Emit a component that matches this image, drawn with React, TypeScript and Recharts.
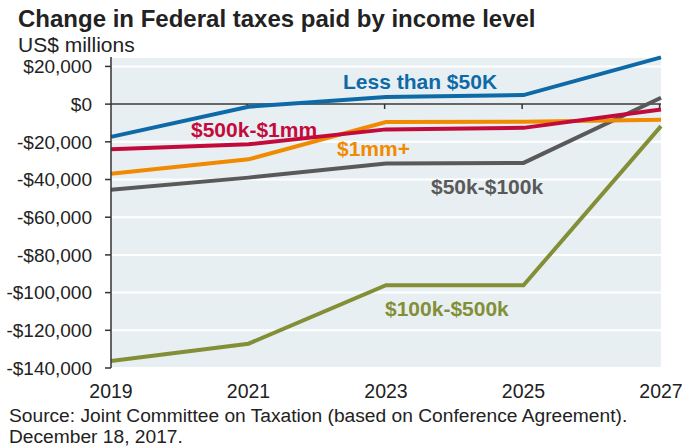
import React from 'react';
import {
  LineChart,
  Line,
  XAxis,
  YAxis,
  CartesianGrid,
  ReferenceLine,
} from 'recharts';

const years = [2019, 2021, 2023, 2025, 2027];
const lessThan50k = [-17400, -1400, 3800, 4800, 24800];
const k50to100k = [-45400, -39000, -31500, -31200, 3400];
const k100to500k = [-136300, -127100, -96100, -96100, -11700];
const k500to1mm = [-23900, -21300, -13400, -12600, -2800];
const mm1plus = [-36900, -29300, -9500, -9400, -8300];
const yTicks = [20000, 0, -20000, -40000, -60000, -80000, -100000, -120000, -140000];

const data = years.map((year, i) => ({
  year,
  lt50: lessThan50k[i],
  k50: k50to100k[i],
  k100: k100to500k[i],
  k500: k500to1mm[i],
  mm1: mm1plus[i],
}));

const BLUE = '#0d6aa7';
const GRAY = '#595959';
const GREEN = '#838f36';
const RED = '#c20b3b';
const ORANGE = '#f08a00';
const TEXT = '#222';
const FONT = '"Liberation Sans", Arial, sans-serif';

const fmtMoney = (v: number) =>
  (v < 0 ? '-$' : '$') + Math.abs(v).toLocaleString('en-US');

export default function App() {
  return (
    <div style={{ position: 'absolute', left: 0, top: 0, width: 692, height: 447, background: '#fff', fontFamily: FONT }}>
      <LineChart
        width={692}
        height={447}
        data={data}
        margin={{ top: 57, right: 31, bottom: 49, left: 11 }}
      >
        <CartesianGrid vertical={false} stroke="#fff" strokeWidth={2} fill="#e8eff3" />
        <XAxis
          dataKey="year"
          type="number"
          domain={[2019, 2027]}
          ticks={years}
          height={30}
          axisLine={false}
          tickLine={false}
          tickSize={0}
          tickMargin={16.5}
          tick={{ fill: TEXT, fontSize: 19.5, fontFamily: FONT }}
        />
        <YAxis
          type="number"
          domain={[-140000, 25000]}
          ticks={yTicks}
          width={100}
          axisLine={{ stroke: '#333', strokeWidth: 1.5 }}
          tickLine={{ stroke: '#333', strokeWidth: 1.5 }}
          tickSize={6}
          tickMargin={13}
          tickFormatter={fmtMoney}
          tick={{ fill: TEXT, fontSize: 19, fontFamily: FONT }}
          interval={0}
        />
        <ReferenceLine y={0} stroke="#333" strokeWidth={1.5} />
        {years.slice(1).map((yr) => (
          <ReferenceLine
            key={yr}
            segment={[{ x: yr - 0.02, y: 0 }, { x: yr - 0.02, y: -2600 }]}
            stroke="#333"
            strokeWidth={1.5}
          />
        ))}
        <Line dataKey="lt50" stroke={BLUE} strokeWidth={4} dot={false} isAnimationActive={false} />
        <Line dataKey="k100" stroke={GREEN} strokeWidth={4} dot={false} isAnimationActive={false} />
        <Line dataKey="k50" stroke={GRAY} strokeWidth={4} dot={false} isAnimationActive={false} />
        <Line dataKey="mm1" stroke={ORANGE} strokeWidth={4} dot={false} isAnimationActive={false} />
        <Line dataKey="k500" stroke={RED} strokeWidth={4} dot={false} isAnimationActive={false} />
      </LineChart>
      <svg
        width={692}
        height={447}
        style={{ position: 'absolute', left: 0, top: 0, pointerEvents: 'none' }}
        fontFamily={FONT}
      >
        <text x={18} y={27} fontSize={24} fontWeight="bold" fill={TEXT}>
          Change in Federal taxes paid by income level
        </text>
        <text x={18} y={52} fontSize={21} fill={TEXT}>
          US$ millions
        </text>
        <text x={343} y={89} fontSize={21} fontWeight="bold" fill={BLUE}>
          Less than $50K
        </text>
        <text x={191} y={136.5} fontSize={21} fontWeight="bold" fill={RED}>
          $500k-$1mm
        </text>
        <text x={337} y={155.5} fontSize={21} fontWeight="bold" fill={ORANGE}>
          $1mm+
        </text>
        <text x={431} y={194} fontSize={21} fontWeight="bold" fill={GRAY}>
          $50k-$100k
        </text>
        <text x={385} y={316} fontSize={21} fontWeight="bold" fill={GREEN}>
          $100k-$500k
        </text>
        <text x={9} y={421.5} fontSize={19.2} fill={TEXT}>
          Source: Joint Committee on Taxation (based on Conference Agreement).
        </text>
        <text x={9} y={442.5} fontSize={19.2} fill={TEXT}>
          December 18, 2017.
        </text>
      </svg>
    </div>
  );
}
